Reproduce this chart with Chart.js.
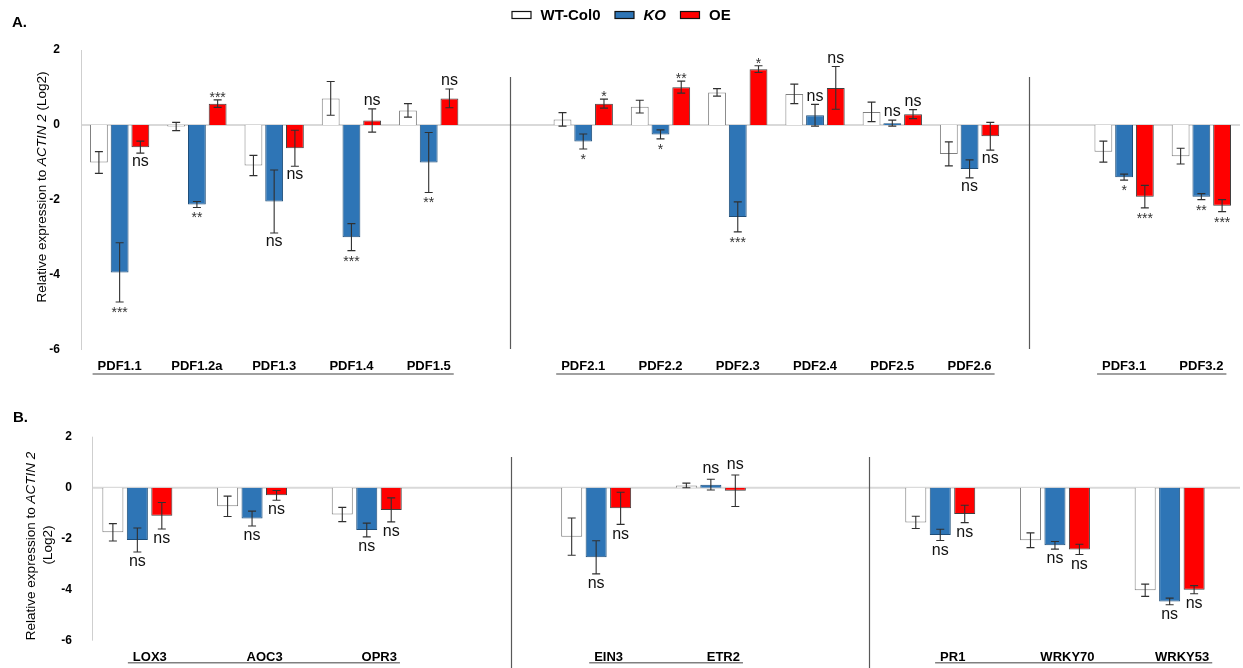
<!DOCTYPE html>
<html>
<head>
<meta charset="utf-8">
<title>PDF expression</title>
<script src="https://cdn.jsdelivr.net/npm/chart.js@4.4.1/dist/chart.umd.min.js"></script>
<style>
    html, body { margin: 0; padding: 0; background: #fff; }
    #wrapA { position: absolute; left: 0; top: 0; width: 1243px; height: 385px; }
    #wrapB { position: absolute; left: 0; top: 385px; width: 1243px; height: 283px; }
</style>
</head>
<body>
<div id="wrapA"><canvas id="chartA"></canvas></div>
<div id="wrapB"><canvas id="chartB"></canvas></div>
<script>
// Panel A data
const catsA = ['PDF1.1', 'PDF1.2a', 'PDF1.3', 'PDF1.4', 'PDF1.5', '', 'PDF2.1', 'PDF2.2', 'PDF2.3', 'PDF2.4', 'PDF2.5', 'PDF2.6', '', 'PDF3.1', 'PDF3.2'];
const wtA = [-1.00, -0.04, -1.08, 0.71, 0.39, null, 0.15, 0.49, 0.87, 0.83, 0.35, -0.77, null, -0.71, -0.83];
const wtErrA = [0.29, 0.11, 0.27, 0.45, 0.18, null, 0.18, 0.17, 0.10, 0.26, 0.26, 0.32, null, 0.28, 0.21];
const koA = [-3.93, -2.12, -2.04, -2.99, -1.00, null, -0.44, -0.25, -2.45, 0.26, 0.05, -1.17, null, -1.39, -1.91];
const koErrA = [0.79, 0.08, 0.84, 0.36, 0.80, null, 0.20, 0.12, 0.40, 0.29, 0.08, 0.24, null, 0.08, 0.08];
const oeA = [-0.59, 0.57, -0.62, 0.12, 0.71, null, 0.57, 1.01, 1.49, 0.99, 0.29, -0.30, null, -1.91, -2.15];
const oeErrA = [0.16, 0.10, 0.48, 0.31, 0.25, null, 0.12, 0.16, 0.09, 0.57, 0.12, 0.37, null, 0.30, 0.16];
const koSigA = ['***', '**', 'ns', '***', '**', null, '*', '*', '***', 'ns', 'ns', 'ns', null, '*', '**'];
const oeSigA = ['ns', '***', 'ns', 'ns', 'ns', null, '*', '**', '*', 'ns', 'ns', 'ns', null, '***', '***'];

// Panel B data
const catsB = ['LOX3', 'AOC3', 'OPR3', '', 'EIN3', 'ETR2', '', 'PR1', 'WRKY70', 'WRKY53'];
const wtB = [-1.75, -0.73, -1.05, null, -1.92, 0.09, null, -1.36, -2.06, -4.02];
const wtErrB = [0.34, 0.40, 0.28, null, 0.73, 0.09, null, 0.24, 0.29, 0.24];
const koB = [-2.05, -1.21, -1.66, null, -2.73, 0.12, null, -1.85, -2.26, -4.46];
const koErrB = [0.47, 0.29, 0.27, null, 0.65, 0.21, null, 0.22, 0.15, 0.13];
const oeB = [-1.10, -0.30, -0.87, null, -0.81, -0.12, null, -1.03, -2.42, -4.00];
const oeErrB = [0.52, 0.19, 0.47, null, 0.63, 0.62, null, 0.34, 0.20, 0.16];
const koSigB = ['ns', 'ns', 'ns', null, 'ns', 'ns', null, 'ns', 'ns', 'ns'];
const oeSigB = ['ns', 'ns', 'ns', null, 'ns', 'ns', null, 'ns', 'ns', 'ns'];

const yTicks = [-6, -4, -2, 0, 2];
const seriesNames = ['WT-Col0', 'KO', 'OE'];

const FONT = "'Liberation Sans', Arial, sans-serif";
const BLUE = '#2E75B6';
const RED = '#FF0000';

// rotated axis title with an italic gene name inside
function drawVertical(ctx, parts, cx, cy, size) {
    ctx.save();
    ctx.translate(cx, cy);
    ctx.rotate(-Math.PI / 2);
    ctx.textBaseline = 'middle';
    ctx.textAlign = 'left';
    ctx.fillStyle = '#000';
    let total = 0;
    parts.forEach(p => {
        ctx.font = (p.italic ? 'italic ' : '') + size + 'px ' + FONT;
        p.w = ctx.measureText(p.text).width;
        total += p.w;
    });
    let x = -total / 2;
    parts.forEach(p => {
        ctx.font = (p.italic ? 'italic ' : '') + size + 'px ' + FONT;
        ctx.fillText(p.text, x, 0);
        x += p.w;
    });
    ctx.restore();
}

const decor = {
    id: 'decor',
    beforeDatasetsDraw(chart, args, o) {
        const { ctx, chartArea, scales: { y } } = chart;
        const ax = chartArea.left + o.axisShift;
        const y0 = y.getPixelForValue(0);
        ctx.save();
        ctx.strokeStyle = '#d9d9d9';
        ctx.lineWidth = 2;
        ctx.beginPath();
        ctx.moveTo(ax, y0);
        ctx.lineTo(chartArea.right + o.zeroExtra, y0);
        ctx.stroke();
        ctx.strokeStyle = '#cfcfcf';
        ctx.lineWidth = 1;
        ctx.beginPath();
        ctx.moveTo(ax + 0.5, chartArea.top);
        ctx.lineTo(ax + 0.5, chartArea.bottom);
        ctx.stroke();
        ctx.restore();
    },
    afterDatasetsDraw(chart, args, o) {
        const { ctx, scales: { y } } = chart;
        ctx.save();
        chart.data.datasets.forEach((ds, i) => {
            const meta = chart.getDatasetMeta(i);
            meta.data.forEach((bar, j) => {
                const v = ds.data[j];
                if (v === null || v === undefined) return;
                const e = ds.errors[j];
                const top = y.getPixelForValue(v + e);
                const bot = y.getPixelForValue(v - e);
                ctx.strokeStyle = '#303030';
                ctx.lineWidth = 1.1;
                ctx.beginPath();
                ctx.moveTo(bar.x, top); ctx.lineTo(bar.x, bot);
                ctx.moveTo(bar.x - 4, top); ctx.lineTo(bar.x + 4, top);
                ctx.moveTo(bar.x - 4, bot); ctx.lineTo(bar.x + 4, bot);
                ctx.stroke();

                const s = ds.sig ? ds.sig[j] : null;
                if (!s) return;
                const above = v >= -0.2;
                const stars = s !== 'ns';
                const fs = stars ? 14 : 16;
                const gap = stars ? (above ? 6 : 7) : (above ? o.nsAbove : o.nsBelow);
                const cy = above ? top - gap : bot + gap;
                ctx.font = fs + 'px ' + FONT;
                ctx.fillStyle = stars ? '#333' : '#111';
                ctx.textAlign = 'center';
                ctx.textBaseline = 'alphabetic';
                ctx.fillText(s, bar.x, cy + (stars ? 0.57 : 0.26) * fs);
            });
        });
        ctx.restore();
    },
    afterDraw(chart, args, o) {
        const { ctx, chartArea, scales: { x } } = chart;
        ctx.save();
        // group dividers
        ctx.strokeStyle = '#595959';
        ctx.lineWidth = 1.2;
        o.dividers.forEach(d => {
            const px = Math.round(x.getPixelForValue(d)) + 0.5;
            ctx.beginPath();
            ctx.moveTo(px, chartArea.top + o.divTop);
            ctx.lineTo(px, chartArea.bottom + o.divBottom);
            ctx.stroke();
        });
        // group underlines below category names
        ctx.font = 'bold 13px ' + FONT;
        ctx.strokeStyle = '#808080';
        ctx.lineWidth = 1.5;
        const ly = chartArea.bottom + o.underlineY;
        o.groups.forEach(([a, b]) => {
            const la = chart.data.labels[a], lb = chart.data.labels[b];
            const xa = x.getPixelForTick(a) + o.labelOffset - ctx.measureText(la).width / 2 - 5;
            const xb = x.getPixelForTick(b) + o.labelOffset + ctx.measureText(lb).width / 2 + 3;
            ctx.beginPath();
            ctx.moveTo(xa, ly);
            ctx.lineTo(xb, ly);
            ctx.stroke();
        });
        // axis title
        o.titleLines.forEach(t => drawVertical(ctx, t.parts, t.x, t.y, 13.5));
        // panel letter
        ctx.fillStyle = '#000';
        ctx.font = 'bold 15px ' + FONT;
        ctx.textAlign = 'left';
        ctx.textBaseline = 'alphabetic';
        ctx.fillText(o.letter.text, o.letter.x, o.letter.y);
        // legend
        if (o.legend) {
            let lx = o.legend.x;
            const ly2 = o.legend.y;
            chart.data.datasets.forEach((ds, i) => {
                ctx.fillStyle = ds.backgroundColor;
                ctx.fillRect(lx, ly2 - 3.5, 19, 7);
                ctx.strokeStyle = '#111';
                ctx.lineWidth = 1.2;
                ctx.strokeRect(lx, ly2 - 3.5, 19, 7);
                lx += 28.5;
                ctx.font = (seriesNames[i] === 'KO' ? 'italic ' : '') + 'bold 15px ' + FONT;
                ctx.fillStyle = '#000';
                ctx.fillText(seriesNames[i], lx, ly2 + 5.4);
                lx += ctx.measureText(seriesNames[i]).width + 14.5;
            });
        }
        ctx.restore();
    }
};

function makeChart(id, labels, sets, p) {
    const ds = [
        { label: seriesNames[0], data: sets.wt, errors: sets.wtErr, sig: null,
          backgroundColor: '#FFFFFF', borderColor: '#7F7F7F' },
        { label: seriesNames[1], data: sets.ko, errors: sets.koErr, sig: sets.koSig,
          backgroundColor: BLUE, borderColor: '#1F4E79' },
        { label: seriesNames[2], data: sets.oe, errors: sets.oeErr, sig: sets.oeSig,
          backgroundColor: RED, borderColor: '#404040' }
    ].map(d => Object.assign(d, {
        borderWidth: 1,
        categoryPercentage: p.cp,
        barPercentage: p.bp
    }));

    return new Chart(document.getElementById(id), {
        type: 'bar',
        data: { labels: labels, datasets: ds },
        options: {
            responsive: true,
            maintainAspectRatio: false,
            animation: false,
            layout: { padding: { top: p.top, right: p.right, left: 0, bottom: 0 } },
            scales: {
                x: {
                    grid: { display: false },
                    border: { display: false },
                    ticks: {
                        color: '#000',
                        font: { family: FONT, size: 13, weight: 'bold' },
                        padding: 1,
                        autoSkip: false,
                        maxRotation: 0,
                        labelOffset: p.labelOffset
                    },
                    afterFit(s) { s.height = p.xHeight; }
                },
                y: {
                    min: -6,
                    max: 2,
                    afterBuildTicks(s) { s.ticks = yTicks.map(v => ({ value: v })); },
                    grid: { display: false },
                    border: { display: false },
                    ticks: {
                        color: '#000',
                        font: { family: FONT, size: 12, weight: 'bold' },
                        padding: p.yPad
                    },
                    afterFit(s) { s.width = p.yWidth; }
                }
            },
            plugins: {
                legend: { display: false },
                tooltip: { enabled: false },
                decor: p.decor
            }
        },
        plugins: [decor]
    });
}

makeChart('chartA', catsA,
    { wt: wtA, wtErr: wtErrA, ko: koA, koErr: koErrA, oe: oeA, oeErr: oeErrA, koSig: koSigA, oeSig: oeSigA },
    {
        cp: 0.805, bp: 0.86, top: 50, right: 3, xHeight: 35, yWidth: 81, yPad: 13, labelOffset: 0,
        decor: {
            axisShift: 0, zeroExtra: 0, nsAbove: 8, nsBelow: 9,
            dividers: [5.05, 11.77], divTop: 27, divBottom: -1,
            groups: [[0, 4], [6, 11], [13, 14]], underlineY: 24, labelOffset: 0,
            titleLines: [{ x: 42, y: 187, parts: [
                { text: 'Relative expression to ' }, { text: 'ACTIN 2', italic: true }, { text: ' (Log2)' }] }],
            letter: { text: 'A.', x: 12, y: 27 },
            legend: { x: 512, y: 15 }
        }
    });

makeChart('chartB', catsB,
    { wt: wtB, wtErr: wtErrB, ko: koB, koErr: koErrB, oe: oeB, oeErr: oeErrB, koSig: koSigB, oeSig: oeSigB },
    {
        cp: 0.64, bp: 0.86, top: 51.7, right: 16, xHeight: 27.3, yWidth: 80, yPad: 0, labelOffset: 12.5,
        decor: {
            axisShift: 12, zeroExtra: 13, nsAbove: 10.5, nsBelow: 10,
            dividers: [3.26, 6.376], divTop: 20.3, divBottom: 30,
            groups: [[0, 2], [4, 5], [7, 9]], underlineY: 22, labelOffset: 12.5,
            titleLines: [
                { x: 31, y: 161, parts: [{ text: 'Relative expression to ' }, { text: 'ACTIN 2', italic: true }] },
                { x: 48, y: 160, parts: [{ text: '(Log2)' }] }],
            letter: { text: 'B.', x: 13, y: 37 },
            legend: null
        }
    });
</script>
</body>
</html>
